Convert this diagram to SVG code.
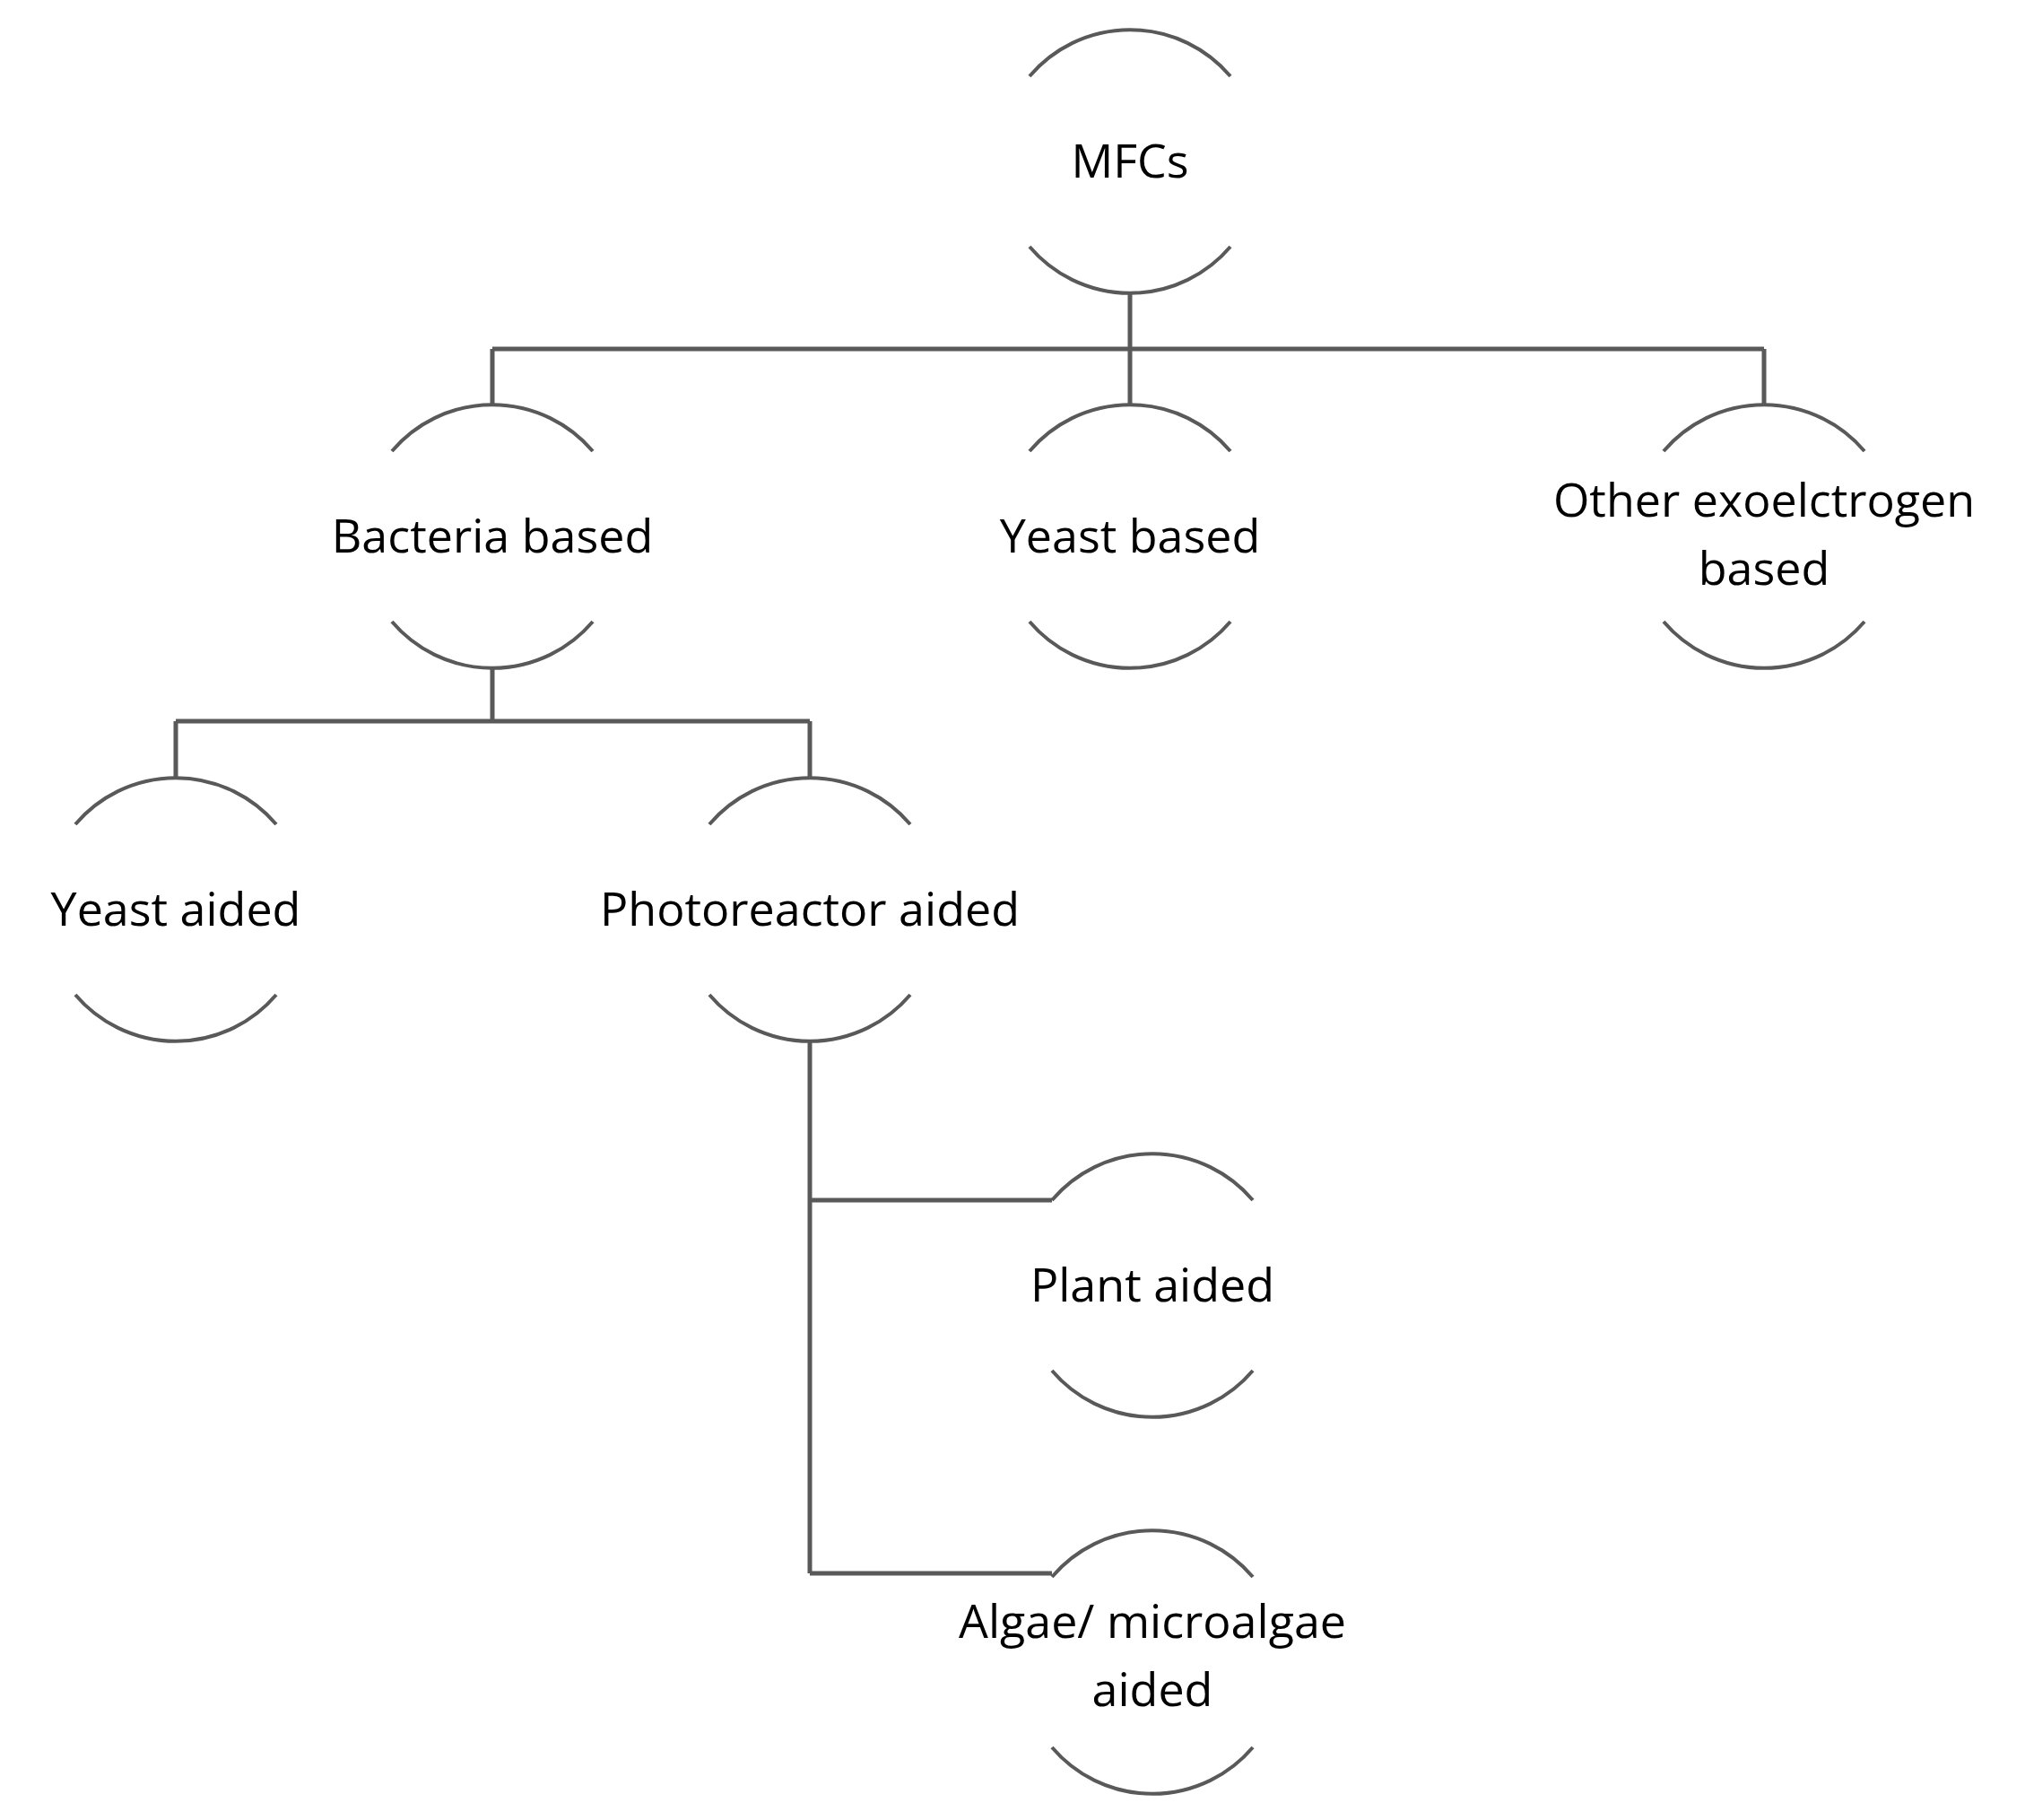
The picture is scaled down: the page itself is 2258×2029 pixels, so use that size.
<svg xmlns="http://www.w3.org/2000/svg" width="2258" height="2029" viewBox="0 0 2258 2029">
<style>
.arc{fill:none;stroke:#595959;stroke-width:4}
.ln{fill:none;stroke:#595959;stroke-width:5}
text{font-family:"Open Sans","Liberation Sans",sans-serif;font-size:52px;fill:#000;text-anchor:middle}
</style>
<defs>
<path id="n" class="arc" d="M-112,-95 A147,147 0 0 1 112,-95 M-112,95 A147,147 0 0 0 112,95"/>
</defs>
<rect width="2258" height="2029" fill="#fff"/>
<g id="connectors">
<path class="ln" d="M1260,327V389M549,389H1967M549,389V451M1260,389V451M1967,389V451"/>
<path class="ln" d="M549,745V804M196,804H903M196,804V867M903,804V867"/>
<path class="ln" d="M903,1161V1754M903,1338H1173M903,1754H1173"/>
</g>
<g id="mfcs"><use href="#n" x="1260" y="180"/><text x="1260" y="198">MFCs</text></g>
<g id="bacteria"><use href="#n" x="549" y="598"/><text x="549" y="616">Bacteria based</text></g>
<g id="yeast"><use href="#n" x="1260" y="598"/><text x="1260" y="616">Yeast based</text></g>
<g id="other"><use href="#n" x="1967" y="598"/><text x="1967" y="576">Other exoelctrogen</text><text x="1967" y="652">based</text></g>
<g id="yeastaided"><use href="#n" x="196" y="1014"/><text x="196" y="1032">Yeast aided</text></g>
<g id="photo"><use href="#n" x="903" y="1014"/><text x="903" y="1032">Photoreactor aided</text></g>
<g id="plant"><use href="#n" x="1285" y="1433"/><text x="1285" y="1451">Plant aided</text></g>
<g id="algae"><use href="#n" x="1285" y="1853"/><text x="1285" y="1826">Algae/ microalgae</text><text x="1285" y="1902">aided</text></g>
</svg>
